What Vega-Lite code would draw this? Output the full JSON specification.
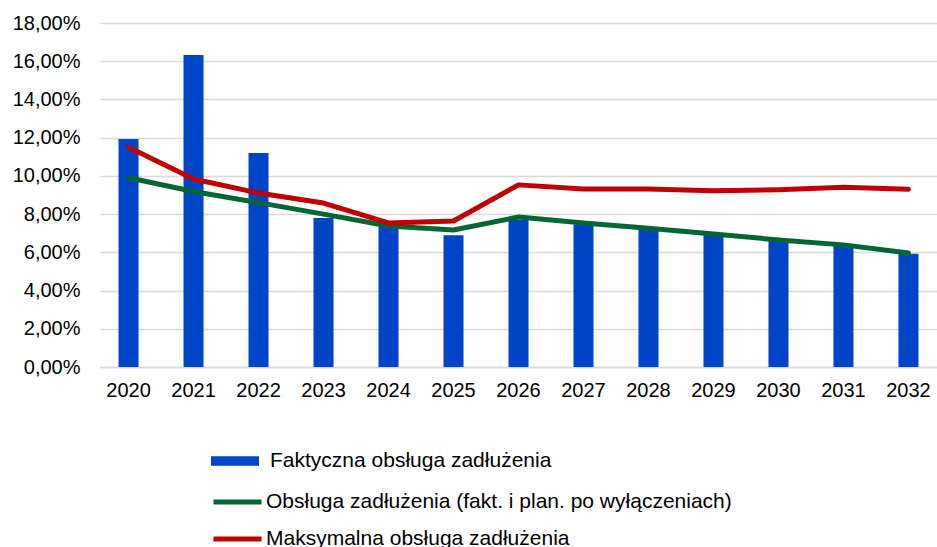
{
  "$schema": "https://vega.github.io/schema/vega-lite/v6.json",
  "width": 837,
  "height": 344,
  "autosize": {"type": "none"},
  "padding": {"left": 100, "top": 23, "right": 0, "bottom": 180},
  "background": "white",
  "config": {
    "locale": {"number": {"decimal": ",", "thousands": " ", "grouping": [3], "currency": ["", " zł"]}},
    "font": "Liberation Sans",
    "view": {"stroke": null}
  },
  "data": {
    "values": [
      {"year": "2020", "series": "Faktyczna obsługa zadłużenia", "value": 0.1193},
      {"year": "2021", "series": "Faktyczna obsługa zadłużenia", "value": 0.1633},
      {"year": "2022", "series": "Faktyczna obsługa zadłużenia", "value": 0.1120},
      {"year": "2023", "series": "Faktyczna obsługa zadłużenia", "value": 0.0780},
      {"year": "2024", "series": "Faktyczna obsługa zadłużenia", "value": 0.0735},
      {"year": "2025", "series": "Faktyczna obsługa zadłużenia", "value": 0.0690},
      {"year": "2026", "series": "Faktyczna obsługa zadłużenia", "value": 0.0770},
      {"year": "2027", "series": "Faktyczna obsługa zadłużenia", "value": 0.0745},
      {"year": "2028", "series": "Faktyczna obsługa zadłużenia", "value": 0.0720},
      {"year": "2029", "series": "Faktyczna obsługa zadłużenia", "value": 0.0690},
      {"year": "2030", "series": "Faktyczna obsługa zadłużenia", "value": 0.0660},
      {"year": "2031", "series": "Faktyczna obsługa zadłużenia", "value": 0.0635},
      {"year": "2032", "series": "Faktyczna obsługa zadłużenia", "value": 0.0592},
      {"year": "2020", "series": "Obsługa zadłużenia (fakt. i plan. po wyłączeniach)", "value": 0.0990},
      {"year": "2021", "series": "Obsługa zadłużenia (fakt. i plan. po wyłączeniach)", "value": 0.0918},
      {"year": "2022", "series": "Obsługa zadłużenia (fakt. i plan. po wyłączeniach)", "value": 0.0860},
      {"year": "2023", "series": "Obsługa zadłużenia (fakt. i plan. po wyłączeniach)", "value": 0.0800},
      {"year": "2024", "series": "Obsługa zadłużenia (fakt. i plan. po wyłączeniach)", "value": 0.0738},
      {"year": "2025", "series": "Obsługa zadłużenia (fakt. i plan. po wyłączeniach)", "value": 0.0717},
      {"year": "2026", "series": "Obsługa zadłużenia (fakt. i plan. po wyłączeniach)", "value": 0.0785},
      {"year": "2027", "series": "Obsługa zadłużenia (fakt. i plan. po wyłączeniach)", "value": 0.0753},
      {"year": "2028", "series": "Obsługa zadłużenia (fakt. i plan. po wyłączeniach)", "value": 0.0726},
      {"year": "2029", "series": "Obsługa zadłużenia (fakt. i plan. po wyłączeniach)", "value": 0.0696},
      {"year": "2030", "series": "Obsługa zadłużenia (fakt. i plan. po wyłączeniach)", "value": 0.0665},
      {"year": "2031", "series": "Obsługa zadłużenia (fakt. i plan. po wyłączeniach)", "value": 0.0639},
      {"year": "2032", "series": "Obsługa zadłużenia (fakt. i plan. po wyłączeniach)", "value": 0.0597},
      {"year": "2020", "series": "Maksymalna obsługa zadłużenia", "value": 0.1150},
      {"year": "2021", "series": "Maksymalna obsługa zadłużenia", "value": 0.0984},
      {"year": "2022", "series": "Maksymalna obsługa zadłużenia", "value": 0.0910},
      {"year": "2023", "series": "Maksymalna obsługa zadłużenia", "value": 0.0858},
      {"year": "2024", "series": "Maksymalna obsługa zadłużenia", "value": 0.0754},
      {"year": "2025", "series": "Maksymalna obsługa zadłużenia", "value": 0.0764},
      {"year": "2026", "series": "Maksymalna obsługa zadłużenia", "value": 0.0953},
      {"year": "2027", "series": "Maksymalna obsługa zadłużenia", "value": 0.0932},
      {"year": "2028", "series": "Maksymalna obsługa zadłużenia", "value": 0.0932},
      {"year": "2029", "series": "Maksymalna obsługa zadłużenia", "value": 0.0922},
      {"year": "2030", "series": "Maksymalna obsługa zadłużenia", "value": 0.0928},
      {"year": "2031", "series": "Maksymalna obsługa zadłużenia", "value": 0.0940},
      {"year": "2032", "series": "Maksymalna obsługa zadłużenia", "value": 0.0930}
    ]
  },
  "encoding": {
    "x": {
      "field": "year", "type": "ordinal",
      "scale": {"paddingInner": 0.692, "paddingOuter": 0.285},
      "axis": {
        "title": null, "labelAngle": 0, "labelFontSize": 20, "labelColor": "#000000",
        "ticks": false, "labelPadding": 13, "domainColor": "#d9d9d9", "domainWidth": 1.5,
        "grid": false
      }
    },
    "y": {
      "field": "value", "type": "quantitative",
      "scale": {"domain": [0, 0.18], "nice": false},
      "axis": {
        "title": null, "format": ".2%", "values": [0, 0.02, 0.04, 0.06, 0.08, 0.1, 0.12, 0.14, 0.16, 0.18],
        "labelFontSize": 20, "labelColor": "#000000", "ticks": false, "domain": false,
        "labelPadding": 20, "gridColor": "#d9d9d9", "gridWidth": 1.5
      }
    }
  },
  "layer": [
    {
      "transform": [{"filter": "datum.series === 'Faktyczna obsługa zadłużenia'"}],
      "mark": {"type": "bar"},
      "encoding": {
        "fill": {
          "field": "series", "type": "nominal",
          "scale": {"domain": ["Faktyczna obsługa zadłużenia"], "range": ["#0044c8"]},
          "legend": {
            "title": null, "orient": "none", "legendX": 111, "legendY": 414,
            "symbolType": "M-1,-0.2H1V0.2H-1Z", "symbolSize": 2304, "symbolStrokeWidth": 0,
            "labelFontSize": 21, "labelColor": "#000000", "labelOffset": 11, "labelLimit": 0, "padding": 0
          }
        }
      }
    },
    {
      "transform": [{"filter": "datum.series !== 'Faktyczna obsługa zadłużenia'"}],
      "mark": {"type": "line", "strokeWidth": 5, "strokeCap": "round", "strokeJoin": "round"},
      "encoding": {
        "stroke": {
          "field": "series", "type": "nominal",
          "scale": {
            "domain": ["Obsługa zadłużenia (fakt. i plan. po wyłączeniach)", "Maksymalna obsługa zadłużenia"],
            "range": ["#006633", "#c00000"]
          },
          "legend": {
            "title": null, "orient": "none", "legendX": 111, "legendY": 452.5,
            "symbolType": "stroke", "symbolSize": 2304, "symbolStrokeWidth": 5,
            "labelFontSize": 21, "labelColor": "#000000", "labelOffset": 2, "labelLimit": 0, "padding": 0,
            "rowPadding": -11
          }
        }
      }
    }
  ]
}
